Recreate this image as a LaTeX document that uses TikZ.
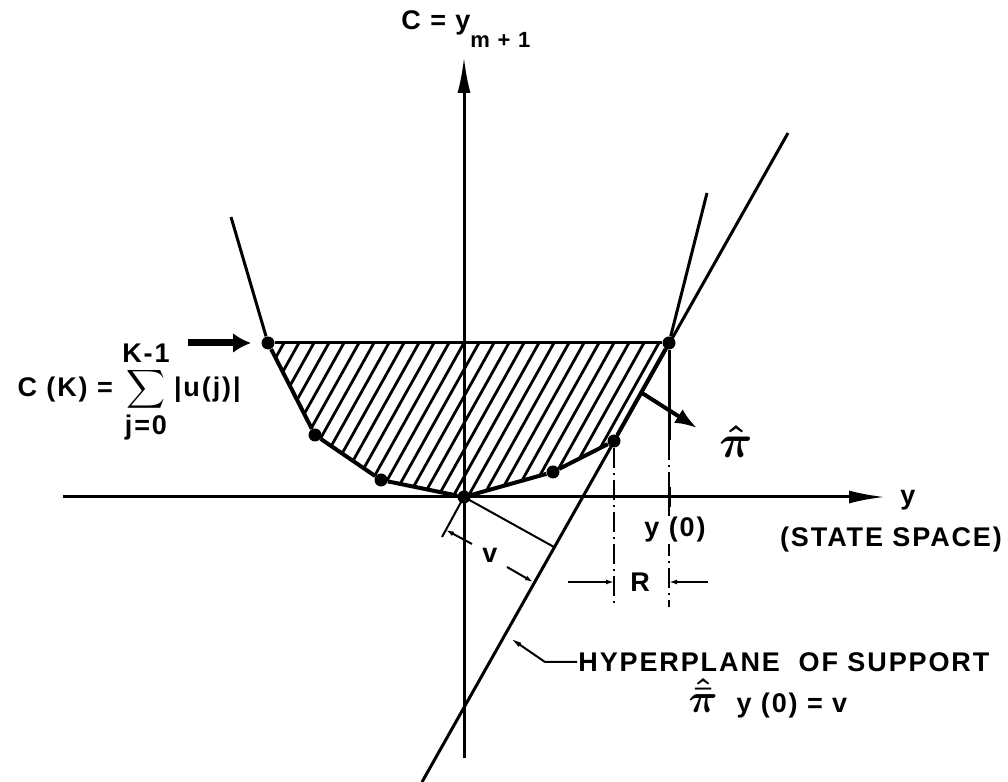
\documentclass[tikz,border=0pt]{standalone}
\usepackage{amsmath,amssymb}
\usepackage{graphicx}
\usepackage{fontspec}
\setmainfont[LetterSpace=7]{Liberation Sans}
\usepackage{tikz}
\usetikzlibrary{calc,arrows.meta}
\tikzset{
  axis/.style={line width=1.5pt},
  edge/.style={line width=2pt},
  hatch/.style={line width=1.4pt},
  dimline/.style={line width=1pt},
  dashdot/.style={line width=1pt, dash pattern=on 10pt off 2.5pt on 1pt off 2.5pt},
  dot/.style={circle, fill=black, inner sep=0pt, minimum size=6.5pt},
  lbl/.style={font=\fontsize{13.5}{16}\selectfont\bfseries, inner sep=0.5pt},
  bigtip/.style={-{Latex[length=18pt,width=6.5pt]}},
  fattip/.style={-{Latex[length=9pt,width=10pt]}},
  pitip/.style={-{Latex[length=11pt,width=8pt]}},
  dimtip/.style={-{Latex[length=4pt,width=2.5pt]}}
}
\newcommand{\pihat}{\scalebox{1.6}{$\boldsymbol{\hat{\pi}}$}}
\newcommand{\pibarhat}{\scalebox{1.4}{$\boldsymbol{\hat{\bar{\pi}}}$}}

\begin{document}
\begin{tikzpicture}[x=0.5pt,y=0.5pt]
  \useasboundingbox (0,0) rectangle (1008,782);
  \node[dot] (p0) at (268,439) {};
  \node[dot] (p1) at (315,347) {};
  \node[dot] (p2) at (381,302) {};
  \node[dot] (o)  at (464,285) {};
  \node[dot] (p3) at (553,310) {};
  \node[dot] (p4) at (614,341) {};
  \node[dot] (y0) at (669,439) {};

  \begin{scope}
    \clip (p0.center) -- (p1.center) -- (p2.center) -- (o.center) -- (p3.center)
      -- (p4.center) -- (y0.center) -- cycle;
    \foreach \i in {0,...,27}
      \draw[hatch] ({180+15*\i},280) -- ++(90,161);
  \end{scope}

  \coordinate (xl) at (63,285);
  \coordinate (xr) at (885,285);
  \coordinate (yb) at (464,24);
  \coordinate (yt) at (464,725);
  \draw[axis,bigtip] (xl) -- (xr);
  \draw[axis,bigtip] (yb) -- (yt);

  \draw[edge] (p0) -- (p1) -- (p2) -- (o) -- (p3) -- (p4) -- (y0);
  \draw[axis] (p0) -- (y0);
  \coordinate (lt) at (231,565);
  \coordinate (rt) at (707,589);
  \draw[axis] (p0) -- (lt);
  \draw[axis] (y0) -- (rt);

  \coordinate (ht) at (788,649);
  \coordinate (hb) at (422,0);
  \draw[axis] (ht) -- (hb);

  \coordinate (y0s) at (669,342);
  \coordinate (y0b) at (669,175);
  \coordinate (rb) at (614,177);
  \coordinate (tk) at (669,285);
  \draw[axis] (y0) -- (y0s);
  \draw[dashdot] (y0s) -- (y0b);
  \draw[dashdot] (p4) -- (rb);
  \draw[axis] ([yshift=-5pt]tk) -- ([yshift=5pt]tk);

  \node[lbl] (r) at (640,200) {R};
  \coordinate (ra) at (568,200);
  \coordinate (rc) at (708,200);
  \draw[dimline,dimtip] (ra) -- (ra -| p4);
  \draw[dimline,dimtip] (rc) -- (rc -| y0);

  \coordinate (foot) at (554,235);
  \coordinate (ea) at (466,289);
  \coordinate (eb) at (442,245);
  \coordinate (va) at (472,238);
  \coordinate (vat) at (446,252);
  \coordinate (vb) at (507,215);
  \coordinate (vbt) at (533,200);
  \draw[dimline] (o.center) -- (foot);
  \draw[dimline] (ea) -- (eb);
  \draw[dimline,dimtip] (va) -- (vat);
  \draw[dimline,dimtip] (vb) -- (vbt);
  \node[lbl] (v) at (490,227) {v};

  \coordinate (pa) at (642,389);
  \coordinate (pt) at (697,354);
  \draw[line width=2pt,pitip] (pa) -- (pt);
  \node[lbl] (pi) at (736,340) {\pihat};

  \coordinate (la) at (188,439);
  \draw[line width=3.5pt,fattip,shorten >=5pt] (la) -- (p0);
  \node[lbl,anchor=east] (ck) at (242,390)
    {C (K) = $\displaystyle\sum_{\mbox{j=0}}^{\mbox{K-1}}$\,|u(j)|};

  \node[lbl,anchor=base west] (cy) at (400,752)
    {C = y\raisebox{-9pt}{\fontsize{11}{13}\selectfont\bfseries m + 1}};

  \node[lbl] (ylab) at (908,282) {y};
  \node[lbl] (ss) at (891,242) {(STATE SPACE)};
  \node[lbl,fill=white] (y0lab) at (675,252) {y (0)};

  \coordinate (hp) at (510,144);
  \coordinate (hk) at (545,120);
  \node[lbl,anchor=west] (hyp) at (577,120) {HYPERPLANE\ \ OF SUPPORT};
  \draw[dimline,{Latex[length=6pt,width=2.5pt]}-] (hp) -- (hk) -- (hyp.west);
  \node[lbl] (eq) at (768,84) {\pibarhat\ \ y (0) = v};
\end{tikzpicture}
\end{document}
